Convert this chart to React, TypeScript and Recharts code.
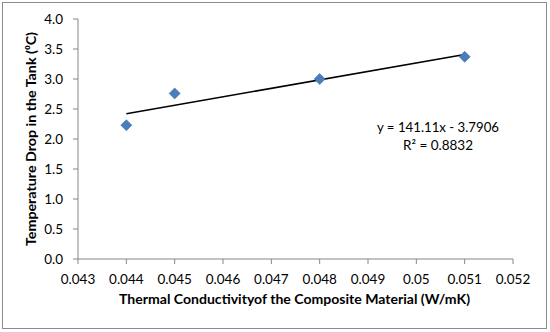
import React from 'react';
import { ScatterChart, Scatter, XAxis, YAxis } from 'recharts';

// measured points
const conductivity = [0.044, 0.045, 0.048, 0.051];
const tempDrop = [2.23, 2.76, 3.0, 3.37];

// linear trendline end points
const trendX = [0.044, 0.051];
const trendY = [2.42, 3.41];

const xTicks = [0.043, 0.044, 0.045, 0.046, 0.047, 0.048, 0.049, 0.05, 0.051, 0.052];
const yTicks = [0, 0.5, 1, 1.5, 2, 2.5, 3, 3.5, 4];

const equationText = 'y = 141.11x - 3.7906';
const r2Text = 'R² = 0.8832';

const points = conductivity.map((x, i) => ({ x, y: tempDrop[i] }));
const trend = trendX.map((x, i) => ({ x, y: trendY[i] }));

const FONT = 'Lato, "Open Sans", sans-serif';
const AXIS = '#868686';

function Diamond(props: any) {
  const { cx, cy } = props;
  if (cx == null || cy == null) return null;
  const r = 5.5;
  return (
    <polygon
      points={`${cx},${cy - r} ${cx + r},${cy} ${cx},${cy + r} ${cx - r},${cy}`}
      fill="#4A7EBB"
      stroke="#3B6EA8"
      strokeWidth={0.6}
    />
  );
}

export default function App() {
  return (
    <div style={{ position: 'absolute', left: 0, top: 0, width: 550, height: 332, background: '#fff', fontFamily: FONT }}>
      <div style={{ position: 'absolute', left: 2, top: 2, width: 543, height: 325, border: '1px solid #8c8c8c' }} />
      <ScatterChart width={550} height={332} margin={{ top: 19, right: 37, left: 0, bottom: 0 }}>
        <XAxis
          type="number"
          dataKey="x"
          domain={[0.043, 0.052]}
          ticks={xTicks}
          interval={0}
          height={73}
          tickSize={5}
          tickMargin={10}
          stroke={AXIS}
          tick={{ fill: '#000', fontSize: 13.5, fontFamily: FONT }}
          tickFormatter={(v: number) => String(Number(v.toFixed(3)))}
        />
        <YAxis
          type="number"
          dataKey="y"
          domain={[0, 4]}
          ticks={yTicks}
          interval={0}
          width={78}
          tickSize={5}
          tickMargin={10}
          stroke={AXIS}
          tick={{ fill: '#000', fontSize: 13.5, fontFamily: FONT }}
          tickFormatter={(v: number) => v.toFixed(1)}
        />
        <Scatter
          data={trend}
          line={{ stroke: '#000', strokeWidth: 1.5 }}
          shape={() => <g />}
          isAnimationActive={false}
        />
        <Scatter data={points} shape={Diamond} isAnimationActive={false} />
      </ScatterChart>
      <svg width={550} height={332} style={{ position: 'absolute', left: 0, top: 0, pointerEvents: 'none' }}>
        <text
          x={294.5}
          y={304}
          textAnchor="middle"
          fontSize={13}
          fontWeight="bold"
          fontFamily={FONT}
          textLength={351}
          lengthAdjust="spacingAndGlyphs"
        >
          Thermal Conductivityof the Composite Material (W/mK)
        </text>
        <text
          x={35.5}
          y={139}
          textAnchor="middle"
          fontSize={13}
          fontWeight="bold"
          fontFamily={FONT}
          textLength={214}
          lengthAdjust="spacingAndGlyphs"
          transform="rotate(-90 35.5 139)"
        >
          Temperature Drop in the Tank (⁰C)
        </text>
        <text x={438} y={132} textAnchor="middle" fontSize={13.5} fontFamily={FONT} textLength={122} lengthAdjust="spacingAndGlyphs">
          {equationText}
        </text>
        <text x={438} y={150} textAnchor="middle" fontSize={13.5} fontFamily={FONT}>
          {r2Text}
        </text>
      </svg>
    </div>
  );
}
